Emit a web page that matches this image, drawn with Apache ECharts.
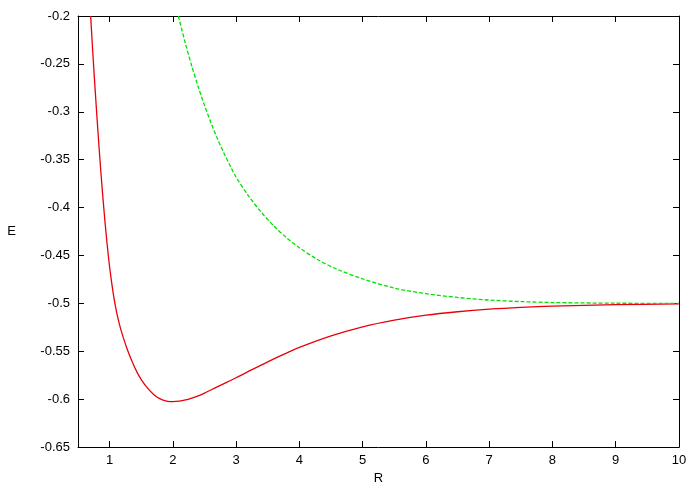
<!DOCTYPE html>
<html><head><meta charset="utf-8">
<script src="https://cdn.jsdelivr.net/npm/echarts@6/dist/echarts.min.js"></script>
<style>html,body{margin:0;padding:0;background:#fff}#c{width:700px;height:490px}</style>
</head><body><div id="c"></div>
<script>
// Red curve (ground state) R and E values
var redR = [0.700, 0.722, 0.745, 0.769, 0.794, 0.820, 0.847, 0.876, 0.907, 0.941, 0.979, 1.025, 1.083, 1.15, 1.22, 1.29, 1.36, 1.43, 1.50, 1.60, 1.70, 1.80, 1.90, 2.00, 2.10, 2.20, 2.30, 2.40, 2.50, 2.60, 2.75, 3.00, 3.25, 3.50, 3.75, 4.00, 4.50, 5.00, 5.50, 6.00, 6.50, 7.00, 7.50, 8.00, 9.00, 10.0];
var redE = [-0.200, -0.225, -0.250, -0.275, -0.300, -0.325, -0.350, -0.375, -0.400, -0.425, -0.450, -0.475, -0.500, -0.5205, -0.5365, -0.5500, -0.5615, -0.5715, -0.5795, -0.5885, -0.5953, -0.5997, -0.6019, -0.6026, -0.6021, -0.6008, -0.5988, -0.5965, -0.5936, -0.5904, -0.5855, -0.5776, -0.5692, -0.5610, -0.5532, -0.5460, -0.5340, -0.5245, -0.5175, -0.5123, -0.5087, -0.5060, -0.5041, -0.5028, -0.5013, -0.5006];
// Green curve (excited state) R and E values
var greenR = [2.086, 2.20, 2.30, 2.40, 2.50, 2.60, 2.70, 2.80, 2.90, 3.00, 3.20, 3.40, 3.60, 3.80, 4.00, 4.30, 4.60, 5.00, 5.50, 6.00, 6.50, 7.00, 7.50, 8.00, 9.00, 10.0];
var greenE = [-0.200, -0.2293, -0.2526, -0.2738, -0.2933, -0.3111, -0.3274, -0.3422, -0.3558, -0.3683, -0.3882, -0.4051, -0.4195, -0.4316, -0.4420, -0.4547, -0.4645, -0.4744, -0.4840, -0.4898, -0.4938, -0.4965, -0.4981, -0.4991, -0.4998, -0.5000];
var xTicks = [1, 2, 3, 4, 5, 6, 7, 8, 9, 10];

function pairs(xs, ys) { return xs.map(function (x, i) { return [x, ys[i]]; }); }

var FONT = 'Liberation Sans';
var chart = echarts.init(document.getElementById('c'), null, {renderer: 'canvas'});
var axisLine = {show: true, lineStyle: {color: '#000', width: 1}};
chart.setOption({
  animation: false,
  backgroundColor: '#fff',
  grid: {left: 78, top: 16, right: 21, bottom: 41, containLabel: false},
  xAxis: [{
    type: 'value', min: 0.5, max: 10, position: 'bottom',
    name: 'R', nameLocation: 'middle', nameGap: 24,
    nameTextStyle: {fontFamily: FONT, fontSize: 13, color: '#000'},
    axisLine: axisLine,
    axisTick: {show: true, inside: true, length: 6, customValues: xTicks, lineStyle: {color: '#000'}},
    axisLabel: {show: true, customValues: xTicks, fontFamily: FONT, fontSize: 13, color: '#000', margin: 7},
    splitLine: {show: false}
  }, {
    type: 'value', min: 0.5, max: 10, position: 'top',
    axisLine: axisLine,
    axisTick: {show: true, inside: true, length: 6, customValues: xTicks, lineStyle: {color: '#000'}},
    axisLabel: {show: false},
    splitLine: {show: false}
  }],
  yAxis: [{
    type: 'value', min: -0.65, max: -0.2, interval: 0.05, position: 'left',
    name: 'E', nameLocation: 'middle', nameGap: 62, nameRotate: 0,
    nameTextStyle: {fontFamily: FONT, fontSize: 13, color: '#000'},
    axisLine: axisLine,
    axisTick: {show: true, inside: true, length: 6, lineStyle: {color: '#000'}},
    axisLabel: {fontFamily: FONT, fontSize: 13, color: '#000', margin: 8,
      formatter: function (v) { return String(Math.round(v * 100) / 100); }},
    splitLine: {show: false}
  }, {
    type: 'value', min: -0.65, max: -0.2, interval: 0.05, position: 'right',
    axisLine: axisLine,
    axisTick: {show: true, inside: true, length: 6, lineStyle: {color: '#000'}},
    axisLabel: {show: false},
    splitLine: {show: false}
  }],
  series: [{
    type: 'line', data: pairs(redR, redE), showSymbol: false, symbol: 'none',
    smooth: 0.3, clip: true,
    lineStyle: {color: '#e8000b', width: 1.3}
  }, {
    type: 'line', data: pairs(greenR, greenE), showSymbol: false, symbol: 'none',
    smooth: 0.3, clip: true,
    lineStyle: {color: '#00e000', width: 1.3, type: [4, 2]}
  }]
});
</script></body></html>
